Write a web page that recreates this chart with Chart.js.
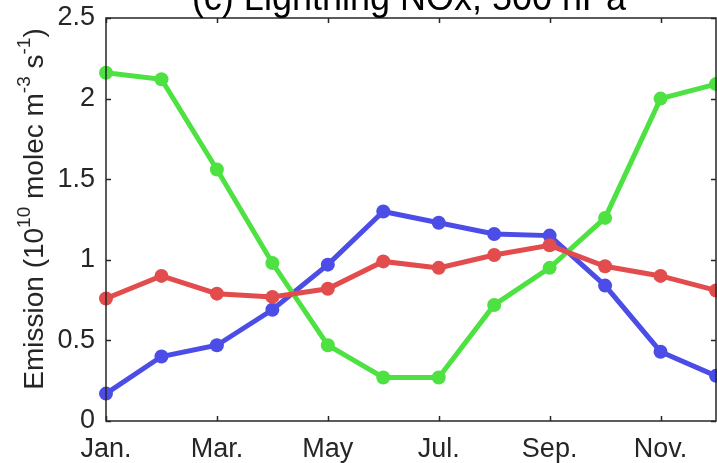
<!DOCTYPE html>
<html>
<head>
<meta charset="utf-8">
<script src="https://cdn.jsdelivr.net/npm/chart.js@4/dist/chart.umd.min.js"></script>
<style>
  html, body { margin: 0; padding: 0; background: #fff; }
  #wrap { width: 717px; height: 463px; position: relative; }
</style>
</head>
<body>
<div id="wrap"><canvas id="canvasNox"></canvas></div>
<script>
// months and tick labels
var meses = ['Jan','Feb','Mar','Apr','May','Jun','Jul','Aug','Sep','Oct','Nov','Dec'];
var etiquetasX = ['Jan.','','Mar.','','May','','Jul.','','Sep.','','Nov.',''];
var ticksY = [0, 0.5, 1, 1.5, 2, 2.5];

// series values (10^10 molec m-3 s-1)
var serieVerde = [2.16, 2.12, 1.56, 0.98, 0.47, 0.27, 0.27, 0.72, 0.95, 1.26, 2.00, 2.09];
var serieAzul  = [0.17, 0.40, 0.47, 0.69, 0.97, 1.30, 1.23, 1.16, 1.15, 0.84, 0.43, 0.28];
var serieRoja  = [0.76, 0.90, 0.79, 0.77, 0.82, 0.99, 0.95, 1.03, 1.09, 0.96, 0.90, 0.81];

var colorTexto = '#262626';
var fuente = '"Liberation Sans", Arial, Helvetica, sans-serif';

// frame, inward ticks, title and y-axis label
var marcoPlugin = {
	id: 'marco',
	afterDraw: function(chart){
		var ctx = chart.ctx;
		var a = chart.chartArea;
		var sx = chart.scales.x, sy = chart.scales.y;
		ctx.save();
		ctx.strokeStyle = colorTexto;
		ctx.lineWidth = 1.5;
		ctx.strokeRect(a.left, a.top, a.right - a.left, a.bottom - a.top);
		ctx.beginPath();
		for (var i = 0; i < meses.length; i += 2){
			var px = Math.round(sx.getPixelForValue(i)) + 0.5;
			ctx.moveTo(px, a.bottom); ctx.lineTo(px, a.bottom - 5);
			ctx.moveTo(px, a.top); ctx.lineTo(px, a.top + 5);
		}
		ticksY.forEach(function(v){
			var py = Math.round(sy.getPixelForValue(v)) + 0.5;
			ctx.moveTo(a.left, py); ctx.lineTo(a.left + 5, py);
			ctx.moveTo(a.right, py); ctx.lineTo(a.right - 5, py);
		});
		ctx.stroke();

		// title (cut at top like the original)
		ctx.fillStyle = '#000';
		ctx.font = '36px ' + fuente;
		ctx.textAlign = 'center';
		ctx.textBaseline = 'alphabetic';
		ctx.fillText('(c) Lightning NOx, 500 hPa', 409, 10);

		// y axis label with superscripts
		var partes = [
			['Emission (10', false], ['10', true], [' molec m', false],
			['-3', true], [' s', false], ['-1', true], [')', false]
		];
		var fNormal = '28px ' + fuente, fSup = '19px ' + fuente;
		var total = 0;
		partes.forEach(function(p){
			ctx.font = p[1] ? fSup : fNormal;
			total += ctx.measureText(p[0]).width;
		});
		ctx.translate(43, 209);
		ctx.rotate(-Math.PI / 2);
		ctx.textAlign = 'left';
		ctx.fillStyle = colorTexto;
		var x = -total / 2;
		partes.forEach(function(p){
			ctx.font = p[1] ? fSup : fNormal;
			ctx.fillText(p[0], x, p[1] ? -13 : 0);
			x += ctx.measureText(p[0]).width;
		});
		ctx.restore();
	}
};

function serie(label, datos, color, orden){
	return {
		label: label,
		data: datos,
		borderColor: color,
		backgroundColor: color,
		borderWidth: 5,
		pointRadius: 7,
		pointHoverRadius: 7,
		pointBorderWidth: 0,
		tension: 0,
		clip: false,
		order: orden
	};
}

var ctx = document.getElementById('canvasNox').getContext('2d');
window.myLine = new Chart(ctx, {
	type: 'line',
	data: {
		labels: meses,
		datasets: [
			serie('Blue', serieAzul, 'rgb(76,76,230)', 3),
			serie('Green', serieVerde, 'rgb(77,226,66)', 2),
			serie('Red', serieRoja, 'rgb(227,76,76)', 1)
		]
	},
	options: {
		responsive: true,
		maintainAspectRatio: false,
		animation: false,
		events: [],
		layout: { autoPadding: false, padding: { top: 18, right: 1, left: 0, bottom: 0 } },
		plugins: {
			legend: { display: false },
			title: { display: false },
			tooltip: { enabled: false }
		},
		scales: {
			x: {
				type: 'category',
				offset: false,
				grid: { display: false, drawTicks: false },
				border: { display: false },
				ticks: {
					autoSkip: false,
					maxRotation: 0,
					padding: 12,
					color: colorTexto,
					font: { family: fuente, size: 27 },
					callback: function(v, i){ return etiquetasX[i]; }
				},
				afterFit: function(s){
					s.height = 42;
					s.paddingRight = 0;
					s.paddingLeft = 0;
				}
			},
			y: {
				min: 0,
				max: 2.5,
				grid: { display: false, drawTicks: false },
				border: { display: false },
				afterBuildTicks: function(s){
					s.ticks = ticksY.map(function(v){ return { value: v }; });
				},
				ticks: {
					padding: 11,
					color: colorTexto,
					font: { family: fuente, size: 27 },
					callback: function(v){ return String(v); }
				},
				afterFit: function(s){
					s.width = 106;
					s.paddingTop = 0;
					s.paddingBottom = 0;
				}
			}
		}
	},
	plugins: [marcoPlugin]
});
</script>
</body>
</html>
